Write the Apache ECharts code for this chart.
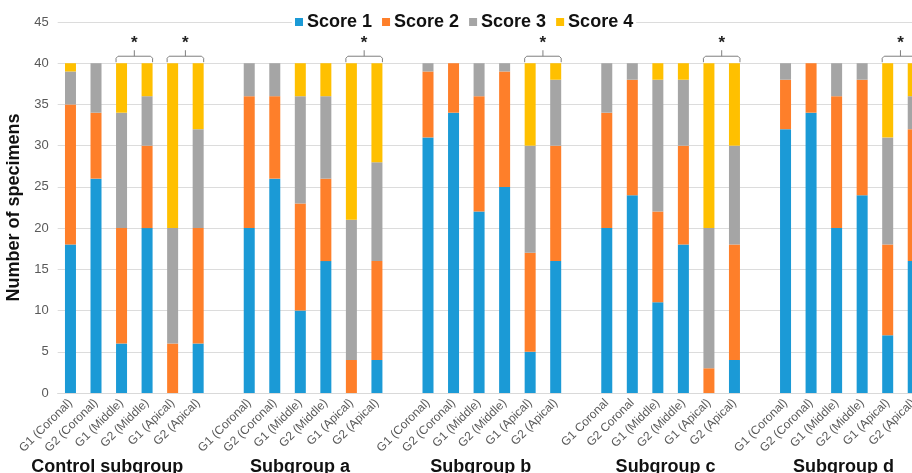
<!DOCTYPE html>
<html>
<head>
<meta charset="utf-8">
<script src="https://cdn.jsdelivr.net/npm/echarts@6/dist/echarts.min.js"></script>
<style>
html,body{margin:0;padding:0;background:#fff;}
#c{width:912px;height:473px;}
</style>
</head>
<body>
<div id="c"></div>
<script>
// ---- data ----
var groupNames = ['Control subgroup', 'Subgroup a', 'Subgroup b', 'Subgroup c', 'Subgroup d'];
var barLabelsStd = ['G1 (Coronal)', 'G2 (Coronal)', 'G1 (Middle)', 'G2 (Middle)', 'G1 (Apical)', 'G2 (Apical)'];
var barLabelsC = ['G1 Coronal', 'G2 Coronal', 'G1 (Middle)', 'G2 (Middle)', 'G1 (Apical)', 'G2 (Apical)'];
var groupBarLabels = [barLabelsStd, barLabelsStd, barLabelsStd, barLabelsC, barLabelsStd];
var seriesNames = ['Score 1', 'Score 2', 'Score 3', 'Score 4'];

// values per group, 6 bars each (Control, a, b, c, d)
var score1 = [18, 26, 6, 20, 0, 6,   20, 26, 10, 16, 0, 4,   31, 34, 22, 25, 5, 16,   20, 24, 11, 18, 0, 4,   32, 34, 20, 24, 7, 16];
var score2 = [17, 8, 14, 10, 6, 14,  16, 10, 13, 10, 4, 12,  8, 6, 14, 14, 12, 14,    14, 14, 11, 12, 3, 14,  6, 6, 16, 14, 11, 16];
var score3 = [4, 6, 14, 6, 14, 12,   4, 4, 13, 10, 17, 12,   1, 0, 4, 1, 13, 8,       6, 2, 16, 8, 17, 12,    2, 0, 4, 2, 13, 4];
var score4 = [1, 0, 6, 4, 20, 8,     0, 0, 4, 4, 19, 12,     0, 0, 0, 0, 10, 2,       0, 0, 2, 2, 20, 10,     0, 0, 0, 0, 9, 4];

// significance brackets: [group index, bar A, bar B]
var brackets = [[0, 2, 3], [0, 4, 5], [1, 4, 5], [2, 4, 5], [3, 4, 5], [4, 4, 5]];
var yTicks = {min: 0, max: 45, interval: 5};

// ---- build slots (one empty slot between groups) ----
var categories = [];
var slotOf = []; // slotOf[g][b]
var perGroup = 6;
for (var g = 0; g < groupNames.length; g++) {
  slotOf.push([]);
  if (g > 0) categories.push('');
  for (var b = 0; b < perGroup; b++) {
    slotOf[g].push(categories.length);
    categories.push(groupBarLabels[g][b]);
  }
}
function toSlots(arr) {
  var out = categories.map(function () { return null; });
  for (var g = 0; g < groupNames.length; g++)
    for (var b = 0; b < perGroup; b++) out[slotOf[g][b]] = arr[g * perGroup + b];
  return out;
}
var colors = ['#1B9AD6', '#FE7F2A', '#A5A5A5', '#FFC000'];
var allScores = [score1, score2, score3, score4];

var bracketData = brackets.map(function (br) { return [slotOf[br[0]][br[1]], slotOf[br[0]][br[2]], 40]; });

var series = allScores.map(function (arr, i) {
  return {
    name: seriesNames[i], type: 'bar', stack: 'total', barWidth: 11,
    data: toSlots(arr), itemStyle: {color: colors[i]}, emphasis: {disabled: true}
  };
});
series.push({
  type: 'custom', name: 'sig', silent: true, clip: false, z: 10,
  encode: {x: [0, 1], y: 2},
  data: bracketData,
  renderItem: function (params, api) {
    var p1 = api.coord([api.value(0), api.value(2)]);
    var p2 = api.coord([api.value(1), api.value(2)]);
    var hw = 5.5;
    var x1 = p1[0] - hw, x2 = p2[0] + hw, y = p1[1];
    var ym = (x1 + x2) / 2;
    var st = {stroke: '#7f7f7f', lineWidth: 1, fill: null};
    return {
      type: 'group',
      children: [
        {type: 'polyline', shape: {points: [[x1, y - 1], [x1, y - 5], [x1 + 2, y - 7], [x2 - 2, y - 7], [x2, y - 5], [x2, y - 1]]}, style: st},
        {type: 'line', shape: {x1: ym, y1: y - 7, x2: ym, y2: y - 13}, style: st},
        {type: 'text', style: {text: '*', x: ym, y: y - 20, align: 'center', verticalAlign: 'middle', font: 'bold 17px "Liberation Sans", Arial, sans-serif', fill: '#222'}}
      ]
    };
  }
});

var chart = echarts.init(document.getElementById('c'), null, {renderer: 'canvas'});
chart.setOption({
  animation: false,
  backgroundColor: '#fff',
  textStyle: {fontFamily: '"Liberation Sans", Arial, sans-serif'},
  legend: {
    data: seriesNames, left: 292, top: 11, itemWidth: 8, itemHeight: 8, itemGap: 10,
    icon: 'rect', backgroundColor: '#fff', padding: [2, 3], z: 20,
    textStyle: {fontSize: 18, fontWeight: 'bold', color: '#111', padding: [0, 0, 0, -1]}
  },
  grid: {left: 57.7, right: -14, top: 22, bottom: 80, containLabel: false, outerBoundsMode: 'none'},
  xAxis: {
    type: 'category', data: categories,
    axisTick: {show: false},
    axisLine: {lineStyle: {color: '#d9d9d9'}},
    axisLabel: {interval: 0, rotate: 45, fontSize: 12, color: '#595959', margin: 8}
  },
  yAxis: {
    type: 'value', min: yTicks.min, max: yTicks.max, interval: yTicks.interval,
    name: 'Number of specimens', nameLocation: 'middle', nameGap: 32,
    nameTextStyle: {fontSize: 18, fontWeight: 'bold', color: '#111'},
    axisLine: {show: false}, axisTick: {show: false},
    axisLabel: {fontSize: 13, color: '#595959', margin: 9},
    splitLine: {lineStyle: {color: '#dcdcdc'}}
  },
  series: series
});

// group labels under the category labels
var labelOffsets = [-27, -13, -11, -5, -6];
var gEls = groupNames.map(function (name, g) {
  var a = chart.convertToPixel({xAxisIndex: 0}, slotOf[g][2]);
  var b2 = chart.convertToPixel({xAxisIndex: 0}, slotOf[g][3]);
  return {
    type: 'text', x: (a + b2) / 2 + labelOffsets[g], y: 467,
    style: {text: name, align: 'center', verticalAlign: 'middle', font: 'bold 18px "Liberation Sans", Arial, sans-serif', fill: '#111'}
  };
});
chart.setOption({graphic: gEls});
</script>
</body>
</html>
